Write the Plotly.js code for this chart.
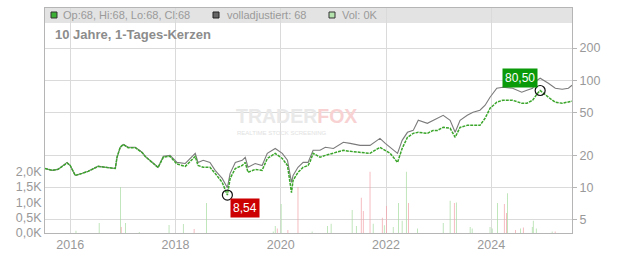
<!DOCTYPE html>
<html>
<head>
<meta charset="utf-8">
<script src="https://cdn.plot.ly/plotly-3.0.1.min.js"></script>
<style>html,body{margin:0;padding:0;background:#fff;}#chart{width:632px;height:253px;}</style>
</head>
<body>
<div id="chart"></div>
<script>
// price dates
var dates = ['2015-07-10','2015-08-28','2015-10-08','2015-12-10','2016-01-01','2016-02-05','2016-03-24','2016-05-04','2016-07-13','2016-09-01','2016-11-09','2016-11-21','2016-12-13','2017-01-04','2017-02-06','2017-03-28','2017-05-15','2017-06-05','2017-07-24','2017-09-02','2017-10-09','2017-11-24','2018-01-11','2018-03-10','2018-05-18','2018-06-06','2018-07-12','2018-08-28','2018-10-03','2018-11-21','2018-12-27','2019-01-15','2019-02-20','2019-04-09','2019-04-30','2019-05-19','2019-07-08','2019-08-25','2019-09-30','2019-11-24','2020-01-12','2020-02-17','2020-03-16','2020-03-27','2020-04-30','2020-06-05','2020-07-09','2020-07-23','2020-08-13','2020-09-30','2020-11-06','2021-01-01','2021-03-11','2021-04-27','2021-07-05','2021-09-12','2021-11-20','2021-12-27','2022-01-30','2022-03-22','2022-04-23','2022-05-30','2022-07-09','2022-08-13','2022-10-15','2022-11-24','2022-12-24','2023-02-02','2023-03-22','2023-04-26','2023-05-30','2023-07-19','2023-08-28','2023-10-15','2023-11-20','2023-12-24','2024-02-09','2024-03-22','2024-05-29','2024-07-31','2024-09-05','2024-10-15','2024-11-15','2024-12-06','2025-02-01','2025-03-21','2025-05-08','2025-06-20','2025-07-15'];
// volladjustiert (grey)
var adjusted = [15.1,14.5,14.8,17.2,16.1,13.0,13.6,14.2,15.8,15.5,15.1,19.2,23.8,25.3,23.8,23.8,21.3,19.6,17.2,15.5,19.6,20.0,17.2,16.8,20.9,17.2,18.0,17.2,14.5,12.2,10.0,13.6,17.2,18.0,19.2,15.5,16.8,16.1,20.9,23.2,20.9,18.0,11.2,13.0,15.5,17.2,17.2,19.2,22.3,22.3,23.8,23.2,26.5,25.9,24.8,24.8,28.8,25.9,23.8,20.9,27.6,32.8,34.2,42.5,39.8,42.5,44.4,47.3,42.5,32.8,42.5,47.3,50.5,52.7,58.7,69.7,84.6,86.4,84.6,77.6,81.0,84.6,100.4,104.9,94.2,84.6,82.8,84.6,90.2];
// close (green)
var closes = [15.1,14.5,14.8,17.0,16.1,13.0,13.6,14.2,15.8,15.4,15.1,19.2,23.8,25.3,23.6,23.6,21.2,19.5,17.1,15.4,19.3,19.6,16.6,15.8,19.6,16.1,15.5,15.5,13.6,11.2,8.54,12.2,15.1,16.1,17.2,13.9,14.8,14.5,18.7,20.9,18.7,16.1,9.0,11.7,13.9,15.5,16.1,17.5,20.9,19.2,20.0,20.9,22.3,21.8,21.3,20.9,23.8,22.3,20.9,17.2,23.2,29.5,32.1,32.8,32.1,34.2,34.2,36.5,35.8,29.5,36.5,38.1,38.1,38.1,44.4,55.0,62.6,65.3,65.3,61.2,61.2,65.3,75.0,80.5,69.7,62.6,61.2,62.6,64.0];

// volume (thousands)
var volUpDates = ['2016-02-10','2016-07-20','2016-12-14','2017-01-18','2017-04-24','2017-11-17','2018-02-24','2018-08-03','2019-11-10','2019-11-24','2020-01-04','2020-08-06','2020-11-20','2020-12-16','2021-05-11','2021-06-09','2021-10-04','2021-12-20','2022-02-20','2022-03-28','2022-04-23','2022-05-22','2022-08-08','2023-02-02','2023-03-22','2023-05-04','2023-08-08','2023-08-22','2023-12-24','2024-01-08','2024-02-13','2024-04-23','2024-07-22','2024-10-12','2024-10-19','2024-11-09','2025-02-27'];
var volUp = [0.07,0.33,1.5,0.33,0.03,0.26,0.29,0.98,0.05,0.23,0.95,0.05,0.23,0.3,0.75,0.23,0.3,0.25,0.2,0.98,0.4,2.0,0.15,0.33,1.05,1.0,0.2,0.15,0.2,0.15,0.98,1.3,0.15,0.2,0.4,0.15,0.05];
var volDownDates = ['2016-12-20','2018-05-10','2019-12-08','2020-02-20','2020-04-30','2021-07-13','2021-07-27','2021-09-12','2021-12-06','2022-01-04','2022-06-06','2023-04-20','2024-04-01','2024-04-16','2024-06-17','2024-08-11','2025-03-20'];
var volDown = [0.2,0.13,0.15,0.1,1.5,1.15,0.72,2.0,0.5,0.88,0.98,0.98,0.95,0.65,0.1,0.18,0.05];

// axis ticks
var yearTicks = ['2016-01-01','2018-01-01','2020-01-01','2022-01-01','2024-01-01'];
var yearLabels = ['2016','2018','2020','2022','2024'];
var priceTicks = [5,10,20,50,100,200];
var priceLabels = ['5','10','20','50','100','200'];
var volTicks = [0,0.5,1,1.5,2];
var volLabels = ['0,0K','0,5K','1,0K','1,5K','2,0K'];

var lowDate = '2018-12-27', lowVal = 8.54;
var highDate = '2024-12-06', highVal = 80.5;

var barW = 5*86400000;
var traces = [
  {type:'bar', x:volUpDates, y:volUp, yaxis:'y', marker:{color:'#a8dca2'}, width:barW, hoverinfo:'skip'},
  {type:'bar', x:volDownDates, y:volDown, yaxis:'y', marker:{color:'#f2a3ab'}, width:barW, hoverinfo:'skip'},
  {type:'scatter', mode:'lines', x:dates, y:adjusted, yaxis:'y2', line:{color:'#7b7b7b', width:1.1}},
  {type:'scatter', mode:'lines', x:dates, y:closes, yaxis:'y2', line:{color:'#3aa52a', width:1.5, dash:'3px,1px'}},
  {type:'scatter', mode:'markers', x:[lowDate, highDate], y:[lowVal, highVal], yaxis:'y2',
   marker:{symbol:'circle-open', size:10, color:'#111', line:{width:1.2, color:'#111'}}}
];

var F = 'Liberation Sans, Arial, sans-serif';
var layout = {
  width:632, height:253,
  margin:{l:45, r:60, t:8, b:20},
  paper_bgcolor:'#fff', plot_bgcolor:'#fff',
  showlegend:false, barmode:'overlay',
  font:{family:F, size:12, color:'#999'},
  xaxis:{type:'date', range:['2015-07-10','2025-07-15'], tickvals:yearTicks, ticktext:yearLabels,
    showgrid:true, gridcolor:'#dadada', gridwidth:1, showline:true, linecolor:'#b5b5b5', mirror:true,
    ticks:'', zeroline:false, tickfont:{size:12.5, color:'#999'}},
  yaxis:{range:[0,7.35], tickvals:volTicks, ticktext:volLabels, showgrid:false, zeroline:false,
    showline:true, linecolor:'#b5b5b5', ticks:'', side:'left', tickfont:{size:12.5, color:'#999'}},
  yaxis2:{type:'log', overlaying:'y', side:'right', range:[Math.log10(3.78), Math.log10(473)],
    tickvals:priceTicks, ticktext:priceLabels, showgrid:true, gridcolor:'#dadada', gridwidth:1,
    showline:true, linecolor:'#b5b5b5', ticks:'outside', ticklen:4, tickcolor:'#b5b5b5',
    zeroline:false, tickfont:{size:12.5, color:'#999'}},
  shapes:[
    {type:'rect', xref:'paper', yref:'paper', x0:0, x1:1, y0:0.9333, y1:1, fillcolor:'#e3e3e3', line:{width:0}, layer:'below'},
    {type:'rect', xref:'paper', yref:'paper', x0:0.01139, x1:0.02277, y0:0.9556, y1:0.9822, fillcolor:'#3cb034', line:{width:1, color:'#333'}},
    {type:'rect', xref:'paper', yref:'paper', x0:0.3188, x1:0.3302, y0:0.9556, y1:0.9822, fillcolor:'#666', line:{width:1, color:'#222'}},
    {type:'rect', xref:'paper', yref:'paper', x0:0.5389, x1:0.5503, y0:0.9556, y1:0.9822, fillcolor:'#b5e3ae', line:{width:1, color:'#333'}}
  ],
  annotations:[
    {xref:'paper', yref:'paper', x:0.0304, y:0.9667, xanchor:'left', yanchor:'middle', showarrow:false,
     text:'Op:68, Hi:68, Lo:68, Cl:68', font:{family:F, size:11, color:'#9a9a9a'}},
    {xref:'paper', yref:'paper', x:0.3416, y:0.9667, xanchor:'left', yanchor:'middle', showarrow:false,
     text:'volladjustiert: 68', font:{family:F, size:11, color:'#9a9a9a'}},
    {xref:'paper', yref:'paper', x:0.5598, y:0.9667, xanchor:'left', yanchor:'middle', showarrow:false,
     text:'Vol: 0K', font:{family:F, size:11, color:'#9a9a9a'}},
    {xref:'paper', yref:'paper', x:0.0152, y:0.8844, xanchor:'left', yanchor:'middle', showarrow:false,
     text:'<b>10 Jahre, 1-Tages-Kerzen</b>', font:{family:F, size:13, color:'#8c8c8c'}},
    {xref:'paper', yref:'paper', x:0.4763, y:0.5200, xanchor:'center', yanchor:'middle', showarrow:false, borderpad:0,
     text:'<b>TRADER<span style="color:#f8d2d2">FOX</span></b>', font:{family:F, size:19.5, color:'#e9e9e9'}},
    {xref:'paper', yref:'paper', x:0.4497, y:0.4444, xanchor:'center', yanchor:'middle', showarrow:false, borderpad:0,
     text:'REALTIME STOCK SCREENING', font:{family:F, size:6, color:'#e2e2e2'}},
    {xref:'x', yref:'y2', x:lowDate, y:Math.log10(lowVal), xanchor:'left', yanchor:'top', xshift:3, yshift:-2.5,
     showarrow:false, text:'8,54', bgcolor:'#cc0000', borderpad:2, font:{family:F, size:12, color:'#fff'}},
    {xref:'x', yref:'y2', x:highDate, y:Math.log10(highVal), xanchor:'right', yanchor:'bottom', xshift:-2, yshift:2.5,
     showarrow:false, text:'80,50', bgcolor:'#0a9a0a', borderpad:2, font:{family:F, size:12, color:'#fff'}}
  ]
};
Plotly.newPlot('chart', traces, layout, {displayModeBar:false, staticPlot:true});
</script>
</body>
</html>
